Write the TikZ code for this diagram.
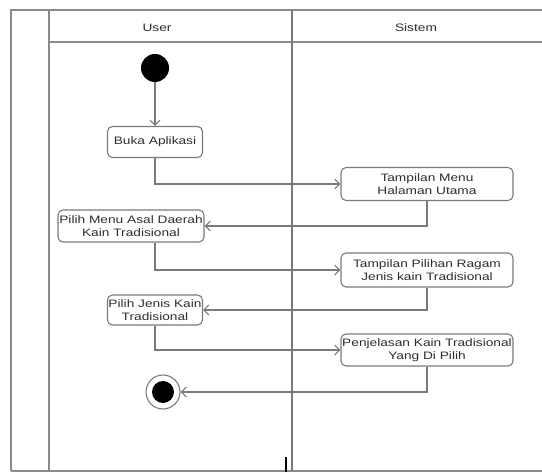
\documentclass[tikz,border=0pt]{standalone}
\usepackage{fontspec}
\setmainfont[FakeStretch=1.27]{Liberation Sans}
\usetikzlibrary{arrows.meta,calc}
\definecolor{frame}{HTML}{8A8A8A}
\definecolor{lineg}{HTML}{7A7A7A}
\definecolor{txt}{HTML}{2E2E2E}
\tikzset{
  framel/.style={draw=frame, line width=1.6bp},
  act/.style={draw=lineg, line width=1.1bp, rounded corners=5bp, fill=white,
    inner sep=0pt, align=center, text=txt,
    font=\fontsize{10.8bp}{12.8bp}\selectfont},
  flow/.style={draw=lineg, line width=1.1bp, -{Straight Barb[length=5bp,width=10bp]}},
  hdr/.style={text=txt, font=\fontsize{10.8bp}{12.8bp}\selectfont},
  startnode/.style={circle, fill=black, minimum size=28bp, inner sep=0pt},
  endouter/.style={circle, draw=lineg, line width=1.1bp, fill=white, minimum size=34bp, inner sep=0pt},
  endinner/.style={circle, fill=black, minimum size=22bp, inner sep=0pt}
}
\begin{document}
\begin{tikzpicture}[x=1bp,y=-1bp]
\useasboundingbox (0,0) rectangle (542,472);
% swimlane frame
\coordinate (tl) at (11,10);
\coordinate (tr) at (542,10);
\coordinate (bl) at (11,471);
\coordinate (br) at (542,471);
\coordinate (c2t) at (49,10);
\coordinate (c2b) at (49,471);
\coordinate (mt) at (292,10);
\coordinate (mb) at (292,471);
\coordinate (hl) at (49,42);
\coordinate (hr) at (542,42);
\draw[framel] (bl) -- (tl) -- (tr);
\draw[framel] (c2t) -- (c2b);
\draw[framel] (bl) -- (br);
\draw[framel] (hl) -- (hr);
\draw[draw=lineg, line width=1.1bp] (mt) -- (mb);
\coordinate (tk1) at (286,457);
\coordinate (tk2) at (286,472);
\draw[black, line width=1.6bp] (tk1) -- (tk2);
% headers
\node[hdr] (huser) at (157,28) {User};
\node[hdr] (hsis) at (416,28) {Sistem};
% nodes
\node[startnode] (start) at (155,68) {};
\node[act, minimum width=95bp, minimum height=31bp] (buka) at (155,142) {Buka Aplikasi};
\node[act, minimum width=172bp, minimum height=33bp] (tm) at (427,184) {Tampilan Menu\\Halaman Utama};
\node[act, minimum width=146bp, minimum height=32bp] (pma) at (131,226) {Pilih Menu Asal Daerah\\Kain Tradisional};
\node[act, minimum width=172bp, minimum height=34bp] (tp) at (427,270) {Tampilan Pilihan Ragam\\Jenis kain Tradisional};
\node[act, minimum width=95bp, minimum height=30bp] (pj) at (155,310) {Pilih Jenis Kain\\Tradisional};
\node[act, minimum width=172bp, minimum height=32bp] (pk) at (427,350) {Penjelasan Kain Tradisional\\Yang Di Pilih};
\node[endouter] (endo) at (163,392) {};
\node[endinner] (endi) at (163,392) {};
% flows
\draw[flow] (start) -- (buka);
\draw[flow] (buka.south) |- (tm.west);
\draw[flow] (tm.south) |- (pma.east);
\draw[flow] (pma.south -| start) |- (tp.west);
\draw[flow] (tp.south) |- (pj.east);
\draw[flow] (pj.south) |- (pk.west);
\draw[flow] (pk.south) |- (endo.east);
\end{tikzpicture}
\end{document}
